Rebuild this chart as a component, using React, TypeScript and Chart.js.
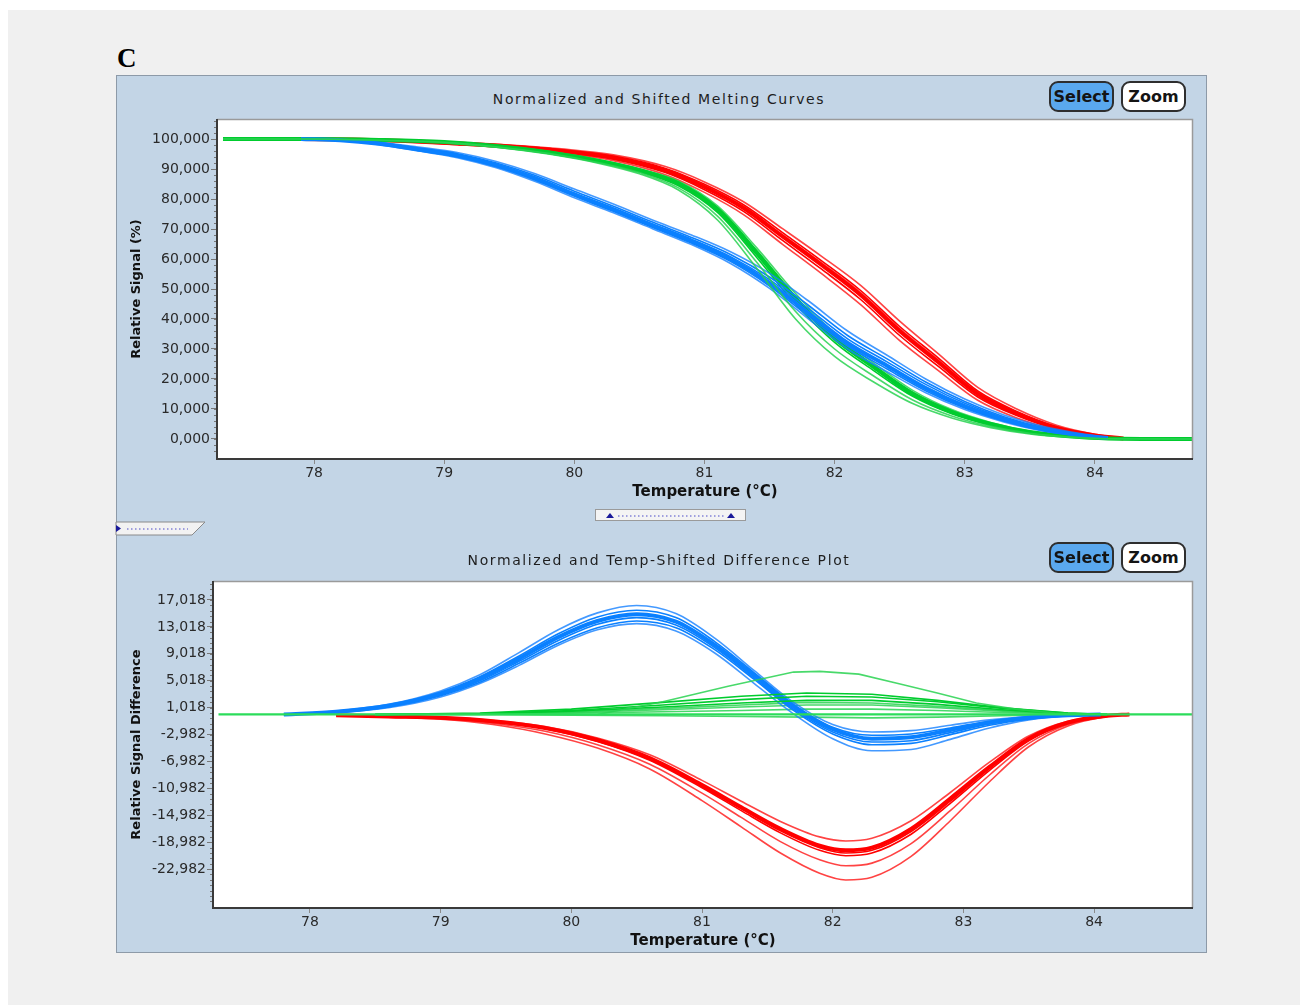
import React, { useEffect, useRef } from 'react';
import { Chart, registerables } from 'chart.js';

Chart.register(...registerables);

// ===================== TOP CHART: Normalized and Shifted Melting Curves =====================
const TOP_TITLE = 'Normalized and Shifted Melting Curves';
const TOP_Y_LABEL = 'Relative Signal (%)';
const X_LABEL = 'Temperature (°C)';
const TOP_X_TICKS = [78, 79, 80, 81, 82, 83, 84];
const TOP_Y_TICKS = [0, 10, 20, 30, 40, 50, 60, 70, 80, 90, 100];

// red group
const TOP_RED_T = [77.9, 78.3, 78.7, 79.1, 79.5, 79.9, 80.3, 80.7, 81.0, 81.3, 81.6, 81.9, 82.2, 82.5, 82.8, 83.1, 83.4, 83.7, 84.0, 84.22];
const TOP_RED_1 = [100, 99.8, 99.3, 98.5, 97.5, 96.0, 93.8, 89.5, 84.0, 77.0, 67.5, 58.0, 48.0, 36.0, 25.5, 15.0, 8.5, 3.8, 1.2, 0.2];
const TOP_RED_2 = [100, 99.8, 99.4, 98.7, 97.8, 96.4, 94.3, 90.2, 84.9, 78.1, 68.8, 59.4, 49.5, 37.5, 26.9, 16.0, 9.2, 4.2, 1.4, 0.2];
const TOP_RED_3 = [100, 99.8, 99.2, 98.3, 97.2, 95.6, 93.3, 88.8, 83.1, 75.9, 66.2, 56.6, 46.5, 34.5, 24.1, 14.0, 7.8, 3.4, 1.0, 0.2];
const TOP_RED_4 = [100, 99.8, 99.3, 98.6, 97.6, 96.2, 94.0, 89.8, 84.4, 77.5, 68.1, 58.7, 48.8, 36.8, 26.2, 15.5, 8.8, 4.0, 1.3, 0.2];
const TOP_RED_5 = [100, 99.9, 99.5, 98.9, 98.0, 96.7, 94.7, 90.8, 85.7, 79.1, 70.1, 60.9, 51.2, 39.3, 28.3, 17.2, 10.0, 4.7, 1.6, 0.3];
const TOP_RED_6 = [100, 99.7, 99.1, 98.1, 97.0, 95.3, 92.8, 88.1, 82.2, 74.8, 64.9, 55.1, 44.8, 32.8, 22.7, 12.9, 7.0, 3.0, 0.9, 0.1];

// green group
const TOP_GREEN_T = [77.3, 78.0, 78.5, 79.0, 79.4, 79.8, 80.2, 80.5, 80.8, 81.1, 81.4, 81.7, 82.0, 82.3, 82.6, 82.9, 83.2, 83.5, 83.8, 84.1, 84.75];
const TOP_GREEN_1 = [100, 100, 99.7, 99.0, 97.7, 95.6, 92.6, 89.6, 85.2, 76.5, 62.0, 46.5, 33.5, 24.0, 15.0, 9.0, 5.0, 2.3, 0.9, 0.2, 0];
const TOP_GREEN_2 = [100, 100, 99.7, 99.1, 97.9, 95.9, 93.0, 90.1, 86.0, 77.7, 63.8, 48.5, 35.2, 25.3, 16.2, 9.8, 5.5, 2.6, 1.0, 0.3, 0];
const TOP_GREEN_3 = [100, 100, 99.6, 98.9, 97.5, 95.3, 92.2, 89.1, 84.4, 75.5, 60.6, 45.0, 32.2, 22.8, 14.2, 8.4, 4.6, 2.1, 0.8, 0.2, 0];
const TOP_GREEN_4 = [100, 100, 99.6, 98.8, 97.3, 95.0, 91.8, 88.4, 83.0, 73.0, 57.0, 40.0, 27.5, 19.0, 11.8, 7.0, 3.8, 1.7, 0.6, 0.1, 0];
const TOP_GREEN_5 = [100, 100, 99.7, 99.0, 97.8, 95.7, 92.8, 89.9, 85.6, 77.1, 62.9, 47.5, 34.4, 24.6, 15.6, 9.4, 5.2, 2.4, 0.9, 0.2, 0];
const TOP_GREEN_6 = [100, 100, 99.6, 98.9, 97.4, 95.2, 92.0, 88.8, 83.7, 74.3, 59.0, 42.5, 30.0, 21.0, 13.0, 7.7, 4.2, 1.9, 0.7, 0.1, 0];

// blue group
const TOP_BLUE_T = [77.9, 78.2, 78.5, 78.8, 79.1, 79.4, 79.7, 80.0, 80.3, 80.6, 80.9, 81.2, 81.5, 81.8, 82.1, 82.4, 82.7, 83.0, 83.3, 83.6, 83.9, 84.1];
const TOP_BLUE_1 = [100, 99.6, 98.4, 96.5, 94.5, 91.2, 86.8, 81.5, 76.5, 71.2, 66.0, 60.0, 52.0, 42.0, 32.0, 24.5, 17.0, 11.0, 6.5, 3.2, 1.2, 0.3];
const TOP_BLUE_2 = [100, 99.7, 98.7, 97.0, 95.1, 92.0, 87.8, 82.6, 77.6, 72.3, 67.2, 61.5, 54.0, 44.5, 34.5, 26.8, 19.0, 12.5, 7.4, 3.8, 1.5, 0.4];
const TOP_BLUE_3 = [100, 99.5, 98.1, 96.0, 93.8, 90.4, 85.8, 80.4, 75.4, 70.1, 64.8, 58.5, 50.2, 40.0, 30.0, 22.5, 15.4, 9.8, 5.7, 2.7, 1.0, 0.2];
const TOP_BLUE_4 = [100, 99.6, 98.5, 96.7, 94.8, 91.6, 87.3, 82.0, 77.0, 71.7, 66.6, 60.8, 53.1, 43.4, 33.4, 25.8, 18.2, 11.9, 7.0, 3.5, 1.3, 0.3];
const TOP_BLUE_5 = [100, 99.5, 98.3, 96.2, 94.1, 90.8, 86.3, 81.0, 75.9, 70.6, 65.3, 59.2, 51.0, 40.9, 31.0, 23.4, 16.1, 10.3, 6.0, 2.9, 1.1, 0.2];
const TOP_BLUE_6 = [100, 99.8, 98.9, 97.3, 95.5, 92.5, 88.4, 83.3, 78.3, 73.0, 68.0, 62.4, 55.2, 46.0, 36.0, 28.0, 20.0, 13.3, 8.0, 4.2, 1.7, 0.5];

// ===================== BOTTOM CHART: Normalized and Temp-Shifted Difference Plot =====================
const BOT_TITLE = 'Normalized and Temp-Shifted Difference Plot';
const BOT_Y_LABEL = 'Relative Signal Difference';
const BOT_X_TICKS = [78, 79, 80, 81, 82, 83, 84];
const BOT_Y_TICKS = [17.018, 13.018, 9.018, 5.018, 1.018, -2.982, -6.982, -10.982, -14.982, -18.982, -22.982];

// red group
const BOT_RED_T = [78.2, 78.6, 79.0, 79.4, 79.8, 80.2, 80.6, 81.0, 81.3, 81.6, 81.9, 82.1, 82.3, 82.6, 82.9, 83.2, 83.5, 83.8, 84.1, 84.27];
const BOT_RED_1 = [-0.1, -0.3, -0.5, -1.0, -2.0, -3.8, -6.5, -10.5, -13.8, -17.0, -19.5, -20.2, -19.8, -17.0, -12.5, -7.8, -3.6, -1.2, -0.2, 0];
const BOT_RED_2 = [-0.1, -0.2, -0.4, -0.9, -1.8, -3.5, -6.0, -9.8, -12.9, -15.9, -18.2, -18.8, -18.4, -15.8, -11.6, -7.1, -3.2, -1.0, -0.2, 0];
const BOT_RED_3 = [-0.1, -0.3, -0.5, -1.1, -2.1, -4.0, -6.8, -10.9, -14.3, -17.6, -20.2, -21.0, -20.6, -17.8, -13.2, -8.3, -3.9, -1.3, -0.2, 0];
const BOT_RED_4 = [-0.1, -0.3, -0.6, -1.3, -2.5, -4.5, -7.4, -11.7, -15.3, -18.9, -21.6, -22.5, -22.1, -19.2, -14.3, -9.0, -4.3, -1.5, -0.3, 0];
const BOT_RED_5 = [-0.1, -0.4, -0.7, -1.5, -2.9, -5.0, -8.1, -12.8, -16.7, -20.6, -23.6, -24.6, -24.2, -21.1, -15.8, -10.0, -4.8, -1.7, -0.3, 0];
const BOT_RED_6 = [-0.1, -0.3, -0.5, -1.0, -2.0, -3.9, -6.6, -10.7, -14.0, -17.3, -19.8, -20.6, -20.2, -17.4, -12.9, -8.0, -3.7, -1.2, -0.2, 0];

// blue group
const BOT_BLUE_T = [77.8, 78.2, 78.6, 79.0, 79.3, 79.6, 79.9, 80.2, 80.5, 80.8, 81.1, 81.4, 81.7, 82.0, 82.3, 82.6, 82.9, 83.2, 83.5, 83.8, 84.05];
const BOT_BLUE_1 = [0, 0.4, 1.3, 3.1, 5.3, 8.3, 11.5, 13.9, 14.9, 13.8, 10.3, 5.8, 1.2, -2.2, -3.6, -3.4, -2.3, -1.2, -0.5, -0.1, 0];
const BOT_BLUE_2 = [0, 0.5, 1.5, 3.5, 5.9, 9.2, 12.6, 15.1, 16.2, 15.0, 11.3, 6.5, 1.8, -1.5, -2.6, -2.4, -1.6, -0.8, -0.3, -0.1, 0];
const BOT_BLUE_3 = [0, 0.4, 1.4, 3.3, 5.6, 8.7, 12.0, 14.5, 15.5, 14.4, 10.8, 6.2, 1.5, -1.9, -3.1, -2.9, -2.0, -1.0, -0.4, -0.1, 0];
const BOT_BLUE_4 = [0, 0.3, 1.1, 2.8, 4.8, 7.6, 10.6, 12.9, 13.9, 12.9, 9.6, 5.2, 0.6, -2.9, -4.5, -4.3, -3.0, -1.6, -0.7, -0.2, 0];
const BOT_BLUE_5 = [0, 0.3, 1.2, 2.9, 5.0, 7.9, 11.0, 13.4, 14.4, 13.3, 9.9, 5.4, 0.8, -2.6, -4.1, -3.9, -2.7, -1.4, -0.6, -0.1, 0];
const BOT_BLUE_6 = [0, 0.3, 1.0, 2.6, 4.6, 7.3, 10.3, 12.6, 13.5, 12.4, 9.1, 4.6, 0.1, -3.6, -5.4, -5.2, -3.7, -2.0, -0.8, -0.2, 0];

// green group
const BOT_GREEN_BASE_T = [77.3, 84.75];
const BOT_GREEN_BASE = [0, 0];
const BOT_GREEN_TALL_T = [80.2, 80.7, 81.2, 81.7, 81.9, 82.2, 82.5, 82.8, 83.1, 83.4, 83.7, 84.0];
const BOT_GREEN_TALL = [0, 1.9, 4.2, 6.3, 6.4, 6.0, 4.6, 3.2, 1.7, 0.8, 0.2, 0];
const BOT_GREEN_T = [78.5, 79.3, 80.0, 80.7, 81.3, 81.8, 82.3, 82.8, 83.3, 83.8, 84.1];
const BOT_GREEN_2 = [0, 0.2, 0.8, 1.8, 2.7, 3.2, 3.0, 2.1, 1.0, 0.2, 0];
const BOT_GREEN_3 = [0, 0.1, 0.6, 1.4, 2.2, 2.7, 2.6, 1.9, 0.9, 0.2, 0];
const BOT_GREEN_4 = [0, 0.1, 0.5, 1.1, 1.7, 2.1, 2.1, 1.5, 0.7, 0.1, 0];
const BOT_GREEN_5 = [0, 0.1, 0.4, 0.9, 1.4, 1.8, 1.7, 1.2, 0.6, 0.1, 0];
const BOT_GREEN_6 = [0, 0.1, 0.3, 0.7, 1.1, 1.4, 1.4, 1.0, 0.5, 0.1, 0];
const BOT_GREEN_7 = [0, 0, 0.2, 0.4, 0.6, 0.8, 0.8, 0.6, 0.3, 0.1, 0];
const BOT_GREEN_8 = [0, 0, -0.1, -0.2, -0.3, -0.4, -0.5, -0.4, -0.2, 0, 0];

// ===================== styling =====================
const RED = '#ff0000';
const RED_THIN = 'rgba(255,20,20,0.8)';
const GREEN = '#00cc2e';
const GREEN_THIN = 'rgba(40,210,80,0.85)';
const BLUE = '#0a80ff';
const BLUE_THIN = 'rgba(20,128,255,0.8)';
const FONT = '"DejaVu Sans", Verdana, sans-serif';

type Line = { t: number[]; v: number[]; color: string; width: number; straight?: boolean };

const thin = (t: number[], v: number[], color: string, straight = false): Line => ({ t, v, color, width: 1.6, straight });
const core = (t: number[], v: number[], color: string): Line => ({ t, v, color, width: 4 });

const TOP_LINES: Line[] = [
  thin(TOP_RED_T, TOP_RED_5, RED_THIN), thin(TOP_RED_T, TOP_RED_6, RED_THIN),
  thin(TOP_RED_T, TOP_RED_2, RED), thin(TOP_RED_T, TOP_RED_3, RED), thin(TOP_RED_T, TOP_RED_4, RED_THIN),
  core(TOP_RED_T, TOP_RED_1, RED),
  thin(TOP_GREEN_T, TOP_GREEN_2, GREEN_THIN), thin(TOP_GREEN_T, TOP_GREEN_3, GREEN),
  thin(TOP_GREEN_T, TOP_GREEN_5, GREEN), core(TOP_GREEN_T, TOP_GREEN_1, GREEN),
  thin(TOP_BLUE_T, TOP_BLUE_6, BLUE_THIN), thin(TOP_BLUE_T, TOP_BLUE_3, BLUE_THIN),
  thin(TOP_BLUE_T, TOP_BLUE_2, BLUE), thin(TOP_BLUE_T, TOP_BLUE_5, BLUE),
  thin(TOP_BLUE_T, TOP_BLUE_4, BLUE), core(TOP_BLUE_T, TOP_BLUE_1, BLUE),
  thin(TOP_GREEN_T, TOP_GREEN_4, GREEN_THIN), thin(TOP_GREEN_T, TOP_GREEN_6, GREEN_THIN),
];

const BOT_LINES: Line[] = [
  thin(BOT_RED_T, BOT_RED_5, RED_THIN), thin(BOT_RED_T, BOT_RED_4, RED_THIN), thin(BOT_RED_T, BOT_RED_2, RED_THIN),
  thin(BOT_RED_T, BOT_RED_3, RED), thin(BOT_RED_T, BOT_RED_6, RED), core(BOT_RED_T, BOT_RED_1, RED),
  thin(BOT_GREEN_T, BOT_GREEN_8, GREEN_THIN, true), thin(BOT_GREEN_T, BOT_GREEN_7, GREEN_THIN, true),
  thin(BOT_GREEN_T, BOT_GREEN_6, GREEN_THIN, true), thin(BOT_GREEN_T, BOT_GREEN_5, GREEN_THIN, true),
  thin(BOT_BLUE_T, BOT_BLUE_2, BLUE_THIN), thin(BOT_BLUE_T, BOT_BLUE_6, BLUE_THIN),
  thin(BOT_BLUE_T, BOT_BLUE_3, BLUE), thin(BOT_BLUE_T, BOT_BLUE_4, BLUE), thin(BOT_BLUE_T, BOT_BLUE_5, BLUE),
  core(BOT_BLUE_T, BOT_BLUE_1, BLUE),
  thin(BOT_GREEN_T, BOT_GREEN_4, GREEN, true), thin(BOT_GREEN_T, BOT_GREEN_3, GREEN, true),
  thin(BOT_GREEN_T, BOT_GREEN_2, GREEN, true),
  thin(BOT_GREEN_TALL_T, BOT_GREEN_TALL, GREEN_THIN, true),
  { t: BOT_GREEN_BASE_T, v: BOT_GREEN_BASE, color: '#2bdc5a', width: 2.2, straight: true },
];

type PlotProps = {
  left: number; top: number; width: number; height: number;
  lines: Line[]; xTicks: number[]; yTicks: number[];
  xMin: number; xMax: number; yMin: number; yMax: number;
  yAxisWidth: number; xAxisHeight: number; padTop: number; padRight: number;
  yTitle: string; xTitlePad: number; yTitlePad: number; minorDiv: number;
};

function PlotCanvas(p: PlotProps) {
  const ref = useRef<HTMLCanvasElement>(null);
  useEffect(() => {
    if (!ref.current) return;
    const datasets = p.lines.slice().reverse().map((l) => ({
      data: l.t.map((x, i) => ({ x, y: l.v[i] })),
      borderColor: l.color,
      borderWidth: l.width,
      pointRadius: 0,
      fill: false,
      tension: l.straight ? 0 : 0.4,
      cubicInterpolationMode: l.straight ? 'default' : 'monotone',
    }));
    const framePlugin = {
      id: 'frame',
      beforeDraw(chart: any) {
        const { ctx, chartArea: a } = chart;
        ctx.save();
        ctx.fillStyle = '#ffffff';
        ctx.fillRect(a.left, a.top, a.right - a.left, a.bottom - a.top);
        ctx.restore();
      },
      afterDraw(chart: any) {
        const { ctx, chartArea: a } = chart;
        const y = chart.scales.y;
        ctx.save();
        const step = (p.yTicks[0] - p.yTicks[1]) / p.minorDiv;
        ctx.strokeStyle = '#777';
        ctx.lineWidth = 1;
        const drawMinor = (v: number) => {
          const py = Math.round(y.getPixelForValue(v)) + 0.5;
          if (py < a.top + 2 || py > a.bottom - 2) return;
          ctx.beginPath();
          ctx.moveTo(a.left - 3, py);
          ctx.lineTo(a.left, py);
          ctx.stroke();
        };
        for (let v = p.yTicks[0]; v <= y.max; v += step) drawMinor(v);
        for (let v = p.yTicks[0] - step; v >= y.min; v -= step) drawMinor(v);
        ctx.strokeStyle = '#9a9a9a';
        ctx.lineWidth = 1.5;
        ctx.beginPath();
        ctx.moveTo(a.left, a.top + 0.5);
        ctx.lineTo(a.right - 0.5, a.top + 0.5);
        ctx.lineTo(a.right - 0.5, a.bottom);
        ctx.stroke();
        ctx.strokeStyle = '#3a3a3a';
        ctx.lineWidth = 2;
        ctx.beginPath();
        ctx.moveTo(a.left, a.top);
        ctx.lineTo(a.left, a.bottom);
        ctx.lineTo(a.right, a.bottom);
        ctx.stroke();
        ctx.restore();
      },
    };
    const chart = new Chart(ref.current, {
      type: 'line',
      data: { datasets: datasets as any },
      plugins: [framePlugin],
      options: {
        responsive: false,
        animation: false,
        events: [],
        layout: { padding: { left: 0, top: p.padTop, right: p.padRight, bottom: 0 } },
        plugins: { legend: { display: false }, title: { display: false }, tooltip: { enabled: false } },
        scales: {
          x: {
            type: 'linear',
            min: p.xMin,
            max: p.xMax,
            afterBuildTicks: (s: any) => { s.ticks = p.xTicks.map((value) => ({ value })); },
            afterFit: (s: any) => { s.height = p.xAxisHeight; },
            ticks: {
              autoSkip: false, maxRotation: 0, padding: 1, color: '#2a2a2a',
              font: { family: FONT, size: 14 },
              callback: (v: any) => String(v),
            },
            grid: { drawOnChartArea: false, drawTicks: true, tickLength: 5, tickColor: '#8a8a8a' },
            border: { display: false },
            title: {
              display: true, text: X_LABEL, color: '#111',
              font: { family: FONT, size: 15, weight: 'bold' },
              padding: { top: 0, bottom: p.xTitlePad },
            },
          },
          y: {
            type: 'linear',
            min: p.yMin,
            max: p.yMax,
            afterBuildTicks: (s: any) => { s.ticks = p.yTicks.map((value) => ({ value })); },
            afterFit: (s: any) => { s.width = p.yAxisWidth; },
            ticks: {
              autoSkip: false, padding: 1, color: '#2a2a2a',
              font: { family: FONT, size: 14 },
              callback: (v: any) => Number(v).toFixed(3).replace('.', ','),
            },
            grid: { drawOnChartArea: false, drawTicks: true, tickLength: 6, tickColor: '#777' },
            border: { display: false },
            title: {
              display: true, text: p.yTitle, color: '#111',
              font: { family: FONT, size: 13, weight: 'bold' },
              padding: { top: p.yTitlePad, bottom: 0 },
            },
          },
        },
      } as any,
    });
    return () => chart.destroy();
  }, []);
  return (
    <canvas
      ref={ref}
      width={p.width}
      height={p.height}
      style={{ position: 'absolute', left: p.left, top: p.top, width: p.width, height: p.height }}
    />
  );
}

function Btn({ left, top, label, active }: { left: number; top: number; label: string; active: boolean }) {
  return (
    <div
      style={{
        position: 'absolute', left, top, width: 65, height: 31, boxSizing: 'border-box',
        border: '2px solid #2e2e2e', borderRadius: 9, background: active ? '#5aa8ee' : '#ffffff',
        font: `bold 16px ${FONT}`, color: '#141414', display: 'flex', alignItems: 'center',
        justifyContent: 'center',
      }}
    >
      {label}
    </div>
  );
}

function Title({ text, cy }: { text: string; cy: number }) {
  return (
    <div
      style={{
        position: 'absolute', left: 309, width: 700, top: cy - 9, height: 18, lineHeight: '18px',
        textAlign: 'center', font: `14px ${FONT}`, letterSpacing: '1.6px', color: '#1e1e1e',
      }}
    >
      {text}
    </div>
  );
}

export default function App() {
  return (
    <div style={{ position: 'absolute', left: 0, top: 0, width: 1303, height: 1007, background: '#ffffff', overflow: 'hidden' }}>
      <div style={{ position: 'absolute', left: 8, top: 10, width: 1292, height: 995, background: '#f0f0f0' }} />
      <div style={{ position: 'absolute', left: 117, top: 45, font: 'bold 27px "Liberation Serif", "Times New Roman", serif', lineHeight: '27px', color: '#000' }}>C</div>
      <div style={{ position: 'absolute', left: 116, top: 75, width: 1089, height: 876, background: '#c3d5e6', border: '1px solid #8d9aa8' }} />

      <Title text={TOP_TITLE} cy={100} />
      <Btn left={1049} top={81} label="Select" active={true} />
      <Btn left={1121} top={81} label="Zoom" active={false} />
      <PlotCanvas
        left={116} top={75} width={1091} height={435}
        lines={TOP_LINES} xTicks={TOP_X_TICKS} yTicks={TOP_Y_TICKS.slice().reverse()}
        xMin={77.254} xMax={84.754} yMin={-6.67} yMax={106.67}
        yAxisWidth={101} xAxisHeight={51} padTop={44} padRight={14}
        yTitle={TOP_Y_LABEL} xTitlePad={9} yTitlePad={13} minorDiv={5}
      />

      <svg width={1303} height={1007} style={{ position: 'absolute', left: 0, top: 0, pointerEvents: 'none' }}>
        <polygon points="116,522 205,522 192,535 116,535" fill="#f2f2f2" stroke="#8a8a8a" strokeWidth={1} />
        <line x1={127} y1={529} x2={188} y2={529} stroke="#4a4ac8" strokeWidth={1} strokeDasharray="1.5,2.5" />
        <polygon points="116,525 121,528.5 116,532" fill="#1a1a9a" />
        <rect x={595.5} y={509.5} width={150} height={11} fill="#f4f4f4" stroke="#9a9a9a" strokeWidth={1} />
        <line x1={618} y1={516} x2={724} y2={516} stroke="#4a4ac8" strokeWidth={1} strokeDasharray="1.5,2.5" />
        <polygon points="606,518 610,513 614,518" fill="#1a1a9a" />
        <polygon points="727,518 731,513 735,518" fill="#1a1a9a" />
      </svg>

      <Title text={BOT_TITLE} cy={561} />
      <Btn left={1049} top={542} label="Select" active={true} />
      <Btn left={1121} top={542} label="Zoom" active={false} />
      <PlotCanvas
        left={116} top={530} width={1091} height={423}
        lines={BOT_LINES} xTicks={BOT_X_TICKS} yTicks={BOT_Y_TICKS}
        xMin={77.258} xMax={84.757} yMin={-28.77} yMax={19.84}
        yAxisWidth={97} xAxisHeight={45} padTop={51} padRight={14}
        yTitle={BOT_Y_LABEL} xTitlePad={3} yTitlePad={13} minorDiv={5}
      />
    </div>
  );
}
